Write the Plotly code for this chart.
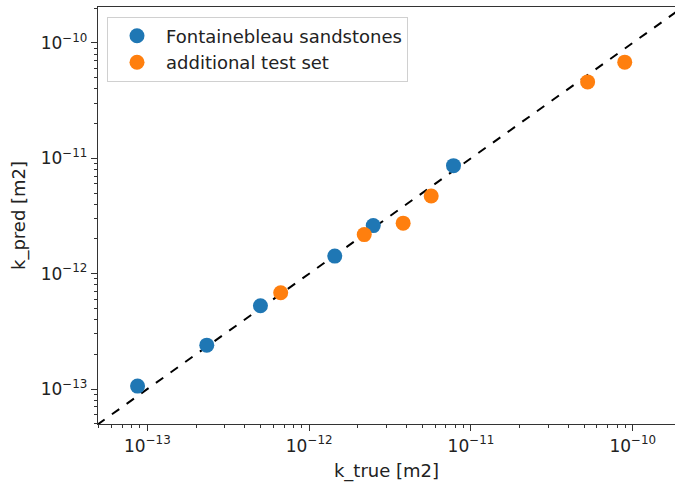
import numpy as np
import plotly.graph_objects as go

# Fontainebleau sandstones
fb_true = [8.7e-14, 2.33e-13, 5.0e-13, 1.44e-12, 2.49e-12, 7.8e-12]
fb_pred = [1.06e-13, 2.40e-13, 5.27e-13, 1.42e-12, 2.61e-12, 8.63e-12]
# additional test set
add_true = [6.67e-13, 2.19e-12, 3.81e-12, 5.68e-12, 5.26e-11, 8.92e-11]
add_pred = [6.84e-13, 2.18e-12, 2.74e-12, 4.71e-12, 4.59e-11, 6.81e-11]

x_range = [-13.305, -9.739]
y_range = [-13.303, -9.689]
line_vals = [10 ** -13.4, 10 ** -9.6]

blue = "#1f77b4"
orange = "#ff7f0e"
font = "DejaVu Sans"

fig = go.Figure()
fig.add_trace(go.Scatter(x=line_vals, y=line_vals, mode="lines",
                         line=dict(color="black", width=2, dash="dash"),
                         showlegend=False, hoverinfo="skip"))
fig.add_trace(go.Scatter(x=fb_true, y=fb_pred, mode="markers",
                         name="Fontainebleau sandstones",
                         marker=dict(color=blue, size=15, line=dict(width=0))))
fig.add_trace(go.Scatter(x=add_true, y=add_pred, mode="markers",
                         name="additional test set",
                         marker=dict(color=orange, size=15, line=dict(width=0))))

def minor_vals(lo, hi):
    vals = []
    for d in range(lo, hi):
        for m in range(2, 10):
            vals.append(m * 10.0 ** d)
    return vals

major = [1e-13, 1e-12, 1e-11, 1e-10]
major_txt = ["10<sup>\u221213</sup>", "10<sup>\u221212</sup>", "10<sup>\u221211</sup>", "10<sup>\u221210</sup>"]

axis_common = dict(type="log", showgrid=False, zeroline=False,
                   showline=True, linecolor="#333333", linewidth=1.3,
                   ticks="outside", ticklen=6, tickwidth=1, tickcolor="#333333",
                   tickvals=major, ticktext=major_txt,
                   tickfont=dict(family=font, size=17, color="#222222"),
                   minor=dict(ticks="outside", ticklen=3, tickwidth=0.8,
                              tickcolor="#333333", showgrid=False,
                              tickvals=minor_vals(-14, -9)))

fig.update_xaxes(range=x_range, mirror=True,
                 title=dict(text="k_true [m2]", font=dict(family=font, size=18, color="#222222"), standoff=9),
                 **axis_common)
fig.update_yaxes(range=y_range, mirror=False,
                 title=dict(text="k_pred [m2]", font=dict(family=font, size=18, color="#222222"), standoff=10),
                 **axis_common)

fig.update_layout(
    width=675, height=483,
    margin=dict(l=98, r=0, t=7, b=59),
    plot_bgcolor="white", paper_bgcolor="white",
    font=dict(family=font, size=18, color="#222222"),
    legend=dict(x=0.0156, y=0.977, xanchor="left", yanchor="top",
                bgcolor="rgba(255,255,255,0.9)", bordercolor="#d0d0d0", borderwidth=1,
                font=dict(family=font, size=18, color="#222222"),
                itemwidth=48, tracegroupgap=0),
)

fig.write_html("out.html")
